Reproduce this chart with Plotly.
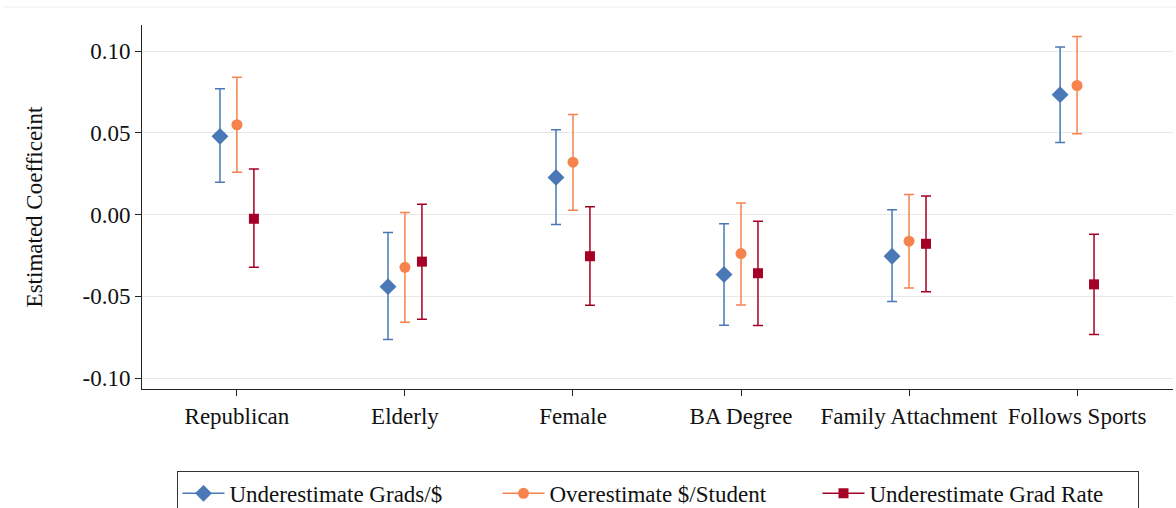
import numpy as np
import plotly.graph_objects as go

categories = ["Republican", "Elderly", "Female", "BA Degree", "Family Attachment", "Follows Sports"]

grads_est = [0.0478, -0.0441, 0.0227, -0.0367, -0.0255, 0.0733]
grads_lo = [0.0197, -0.0765, -0.0061, -0.0677, -0.0532, 0.0441]
grads_hi = [0.0769, -0.0110, 0.0518, -0.0057, 0.0029, 0.1024]

spend_est = [0.0549, -0.0323, 0.0320, -0.0239, -0.0163, 0.0789]
spend_lo = [0.0259, -0.0659, 0.0026, -0.0553, -0.0449, 0.0494]
spend_hi = [0.0840, 0.0012, 0.0612, 0.0071, 0.0122, 0.1089]

rate_est = [-0.0026, -0.0288, -0.0255, -0.0359, -0.0179, -0.0427]
rate_lo = [-0.0322, -0.0641, -0.0555, -0.0679, -0.0473, -0.0734]
rate_hi = [0.0279, 0.0063, 0.0047, -0.0041, 0.0114, -0.0120]

ytick_vals = [-0.10, -0.05, 0.00, 0.05, 0.10]
ytick_text = ["-0.10", "-0.05", "0.00", "0.05", "0.10"]

series = [
    ("Underestimate Grads/$", grads_est, grads_lo, grads_hi, "#4a78b6", "diamond", 13, -0.101),
    ("Overestimate $/Student", spend_est, spend_lo, spend_hi, "#f6834c", "circle", 11, 0.0),
    ("Underestimate Grad Rate", rate_est, rate_lo, rate_hi, "#a50026", "square", 10, 0.101),
]

FONT = "Liberation Serif"
FS = 23
fig = go.Figure()
idx = np.arange(len(categories))
for name, est, lo, hi, color, sym, size, off in series:
    est = np.array(est); lo = np.array(lo); hi = np.array(hi)
    fig.add_trace(go.Scatter(
        x=idx + off, y=est, mode="markers", name=name, showlegend=False,
        marker=dict(symbol=sym, size=size, color=color),
        error_y=dict(type="data", symmetric=False, array=hi - est, arrayminus=est - lo,
                     color=color, thickness=1.5, width=5),
    ))
for name, est, lo, hi, color, sym, size, off in series:
    fig.add_trace(go.Scatter(
        x=[None], y=[None], mode="lines+markers", name=name,
        marker=dict(symbol=sym, size=size, color=color),
        line=dict(color=color, width=1.5),
    ))

fig.add_shape(type="line", xref="paper", yref="paper",
              x0=(3 - 142) / 1031, x1=(1176 - 142) / 1031, y0=1.0495, y1=1.0495,
              line=dict(color="#e9f0f0", width=1))

fig.update_layout(
    width=1176, height=508,
    margin=dict(l=142, r=3, t=25, b=119, autoexpand=False),
    paper_bgcolor="white", plot_bgcolor="white",
    font=dict(family=FONT, size=FS, color="#111111"),
    xaxis=dict(
        range=[-0.565, 5.571], tickmode="array", tickvals=list(idx), ticktext=categories,
        showgrid=False, zeroline=False, showline=True, linecolor="#222222", linewidth=1,
        ticks="outside", ticklen=6, tickcolor="#222222", tickfont=dict(size=FS, family=FONT),
    ),
    yaxis=dict(
        range=[-0.1067, 0.1159], tickmode="array", tickvals=ytick_vals, ticktext=ytick_text,
        showgrid=True, gridcolor="#e8e8e8", gridwidth=1.2, zeroline=False,
        showline=True, linecolor="#222222", linewidth=1,
        ticks="outside", ticklen=6, tickcolor="#222222", tickfont=dict(size=FS, family=FONT),
        title=dict(text="Estimated Coefficeint", font=dict(size=FS, family=FONT), standoff=33),
    ),
    legend=dict(
        orientation="h", x=0.5, xanchor="center", y=-0.225, yanchor="top",
        bordercolor="#333333", borderwidth=1, itemwidth=42,
        entrywidth=263, entrywidthmode="pixels", font=dict(size=FS, family=FONT),
    ),
)

fig.write_html("out.html")
